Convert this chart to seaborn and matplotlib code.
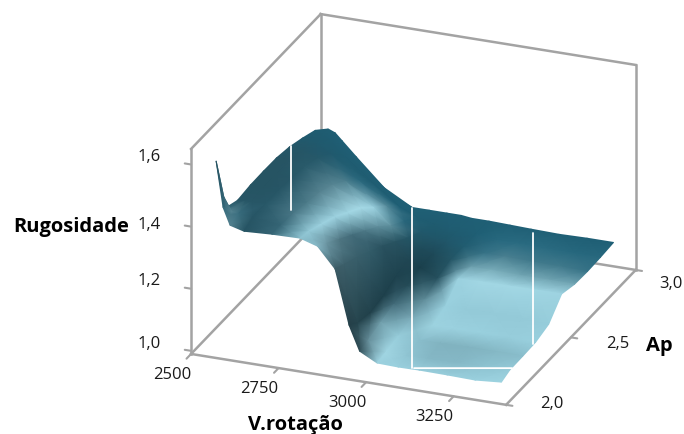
import numpy as np
import matplotlib
matplotlib.use("Agg")
import matplotlib.pyplot as plt
import seaborn as sns
from mpl_toolkits.mplot3d import proj3d

# Grid
v_rotacao = [2540, 2560, 2580, 2620, 2700, 2780, 2830, 2880, 2920, 2950, 3000, 3060, 3120, 3200, 3280, 3355]
ap = [2.085, 2.15, 2.25, 2.35, 2.45, 2.55, 2.65, 2.75, 2.85, 2.95]

# Rugosidade, one row per Ap value
rugosidade = [
    [1.582, 1.436, 1.382, 1.370, 1.375, 1.377, 1.360, 1.296, 1.122, 1.044, 1.015, 1.013, 1.014, 1.013, 1.011, 1.018],
    [1.400, 1.395, 1.390, 1.385, 1.375, 1.370, 1.340, 1.280, 1.100, 1.050, 1.020, 1.020, 1.022, 1.024, 1.026, 1.029],
    [1.383, 1.385, 1.385, 1.385, 1.370, 1.350, 1.310, 1.260, 1.090, 1.065, 1.030, 1.027, 1.028, 1.030, 1.030, 1.030],
    [1.389, 1.390, 1.390, 1.385, 1.360, 1.330, 1.280, 1.235, 1.100, 1.080, 1.045, 1.032, 1.032, 1.033, 1.033, 1.032],
    [1.390, 1.390, 1.390, 1.380, 1.350, 1.300, 1.250, 1.210, 1.120, 1.095, 1.060, 1.050, 1.050, 1.050, 1.048, 1.046],
    [1.389, 1.387, 1.385, 1.375, 1.330, 1.272, 1.220, 1.180, 1.130, 1.110, 1.085, 1.095, 1.097, 1.098, 1.099, 1.100],
    [1.381, 1.380, 1.375, 1.360, 1.300, 1.230, 1.180, 1.150, 1.120, 1.110, 1.100, 1.090, 1.090, 1.088, 1.088, 1.088],
    [1.366, 1.363, 1.355, 1.330, 1.260, 1.190, 1.150, 1.125, 1.105, 1.105, 1.100, 1.090, 1.090, 1.088, 1.087, 1.086],
    [1.348, 1.340, 1.325, 1.280, 1.210, 1.145, 1.120, 1.105, 1.100, 1.100, 1.098, 1.090, 1.090, 1.088, 1.088, 1.088],
    [1.309, 1.300, 1.278, 1.234, 1.149, 1.100, 1.100, 1.100, 1.100, 1.096, 1.096, 1.094, 1.092, 1.090, 1.092, 1.092],
]

# Surface brightness at the same nodes (0 dark, 1 light)
brilho = [
    [0.05, 0.25, 0.40, 0.12, 0.25, 0.70, 0.65, 0.18, 0.05, 0.10, 0.82, 0.80, 0.78, 0.78, 0.80, 0.85],
    [0.25, 0.40, 0.30, 0.13, 0.25, 0.75, 0.50, 0.20, 0.06, 0.45, 0.88, 0.72, 0.66, 0.66, 0.70, 0.75],
    [0.14, 0.14, 0.14, 0.15, 0.35, 0.85, 0.35, 0.20, 0.04, 0.55, 0.78, 0.68, 0.64, 0.64, 0.66, 0.68],
    [0.12, 0.12, 0.12, 0.14, 0.36, 0.85, 0.30, 0.18, 0.03, 0.30, 0.60, 0.84, 0.82, 0.80, 0.78, 0.80],
    [0.12, 0.12, 0.12, 0.14, 0.40, 0.90, 0.35, 0.12, 0.03, 0.08, 0.45, 0.80, 0.76, 0.76, 0.76, 0.78],
    [0.12, 0.12, 0.13, 0.17, 0.42, 0.95, 0.45, 0.12, 0.04, 0.00, 0.10, 0.82, 0.90, 0.90, 0.88, 0.85],
    [0.13, 0.13, 0.13, 0.15, 0.38, 0.85, 0.45, 0.12, 0.05, 0.04, 0.12, 0.55, 0.62, 0.58, 0.58, 0.58],
    [0.15, 0.15, 0.15, 0.15, 0.26, 0.45, 0.25, 0.14, 0.10, 0.12, 0.17, 0.32, 0.38, 0.35, 0.35, 0.32],
    [0.17, 0.17, 0.17, 0.17, 0.18, 0.20, 0.18, 0.16, 0.17, 0.18, 0.20, 0.25, 0.27, 0.27, 0.25, 0.25],
    [0.19, 0.19, 0.20, 0.20, 0.20, 0.20, 0.20, 0.20, 0.20, 0.20, 0.20, 0.21, 0.21, 0.21, 0.20, 0.20],
]

# How far each row / column leans to the teal tones instead of the grey ones
teal_linha = [0, 0.1, 0.2, 0.3, 0.4, 0.5, 0.7, 0.9, 1, 1]
teal_coluna = [0.6, 0.6, 0.6, 0.6, 0.5, 0.2, 0, 0, 0, 0, 0, 0, 0, 0, 0, 0]

v_ticks = [2500, 2750, 3000, 3250]
ap_ticks = [2.0, 2.5, 3.0]
z_ticks = [1.0, 1.2, 1.4, 1.6]

# White gaps in the surface: V, Ap, Rugosidade at both ends
fendas = [
    ([2600, 2600], [2.5, 2.5], [1.255, 1.459]),
    ([3093, 3093], [2.1, 2.1], [1.01, 1.523]),
    ([3366, 3366], [2.3, 2.3], [1.05, 1.406]),
    ([3100, 3380], [2.1, 2.1], [1.01, 1.061]),
]

sns.set_style("white")
plt.rcParams['font.family'] = ['Open Sans', 'DejaVu Sans']
cor_caixa = '#a3a3a3'
cor_texto = '#1a1a1a'

mapa_cinza = sns.blend_palette(['#1a343c', '#2f4c55', '#3f5f69', '#4c6b75', '#5d818c', '#6e97a3', '#7ba9b6', '#8ec3d1', '#9ad0de', '#a2d7e4', '#aadde9'], as_cmap=True)
mapa_teal = sns.blend_palette(['#1a4a5a', '#1e5568', '#1f5f75', '#2f7086', '#4f8595', '#5f97a7', '#74aab8', '#86bcca', '#98cfdd', '#a2d7e4', '#aadde9'], as_cmap=True)

fig = plt.figure(figsize=(6.84, 4.34), dpi=100)
ax = fig.add_axes([0.0958, 0.0039, 1, 1], projection='3d', proj_type='ortho')
ax.view_init(elev=24.2, azim=-68.5)
ax.set_box_aspect((339, 354, 225), zoom=1.205)
x0, x1 = 2500, 3400
y0, y1 = 2.0, 3.0
z0, z1 = 0.99, 1.65
ax.set_xlim(x0, x1, view_margin=0)
ax.set_ylim(y0, y1, view_margin=0)
ax.set_zlim(z0, z1, view_margin=0)
ax.set_axis_off()
ax.patch.set_alpha(0)


def no_plano(x, y, z):
    px, py, _ = proj3d.proj_transform(np.asarray(x, float), np.asarray(y, float), np.asarray(z, float), ax.get_proj())
    return px, py


# box
arestas = [
    ((x0, x1), (y0, y0), (z0, z0)),
    ((x1, x1), (y0, y1), (z0, z0)),
    ((x0, x0), (y0, y1), (z0, z0)),
    ((x0, x1), (y1, y1), (z0, z0)),
    ((x0, x0), (y0, y0), (z0, z1)),
    ((x0, x0), (y1, y1), (z0, z1)),
    ((x1, x1), (y1, y1), (z0, z1)),
    ((x0, x0), (y0, y1), (z1, z1)),
    ((x0, x1), (y1, y1), (z1, z1)),
]
for xs, ys, zs in arestas:
    ax.plot(xs, ys, zs, color=cor_caixa, lw=1.8, solid_capstyle='projecting', clip_on=False)

# ticks
for t in z_ticks:
    ax.plot((x0 - 18, x0), (y0, y0), (t, t), color=cor_caixa, lw=1.5, clip_on=False)
for t in v_ticks:
    ax.plot((t, t), (y0 - 0.035, y0), (z0, z0), color=cor_caixa, lw=1.5, clip_on=False)
for t in ap_ticks:
    ax.plot((x1, x1 + 18), (t, t), (z0, z0), color=cor_caixa, lw=1.5, clip_on=False)

# surface, back rows first so the front rows paint over them
X, Y = np.meshgrid(v_rotacao, ap)
Z = np.array(rugosidade)
px, py = no_plano(X.ravel(), Y.ravel(), Z.ravel())
px = px.reshape(X.shape)[::-1]
py = py.reshape(X.shape)[::-1]
b = np.array(brilho)
peso = np.maximum(np.array(teal_linha)[:, None], np.array(teal_coluna)[None, :])[:, :, None]
cores = mapa_cinza(b) * (1 - peso) + mapa_teal(b) * peso
malha = ax.pcolormesh(px, py, cores[::-1], shading='gouraud', clip_on=False)
malha.do_3d_projection = lambda: 0
malha.set_zorder(5)
ax.computed_zorder = False

for xs, ys, zs in fendas:
    ax.plot(xs, ys, zs, color='white', lw=1.3, zorder=6, clip_on=False)

# tick labels
desloc_z = [(-42, -7), (-42, -8), (-42, -2), (-42, -7)]
for t, d in zip(z_ticks, desloc_z):
    ax.annotate(f'{t:.1f}'.replace('.', ','), xy=no_plano(x0, y0, t), xytext=(d[0], -d[1]), annotation_clip=False,
                textcoords='offset pixels', ha='center', va='center', fontsize=12, color=cor_texto)
for t in v_ticks:
    ax.annotate(str(t), xy=no_plano(t, y0, z0), xytext=(-19, -21), annotation_clip=False,
                textcoords='offset pixels', ha='center', va='center', fontsize=12, color=cor_texto)
desloc_ap = [(46, -1), (47, 7), (35, 14)]
for t, d in zip(ap_ticks, desloc_ap):
    ax.annotate(f'{t:.1f}'.replace('.', ','), xy=no_plano(x1, t, z0), xytext=(d[0], -d[1]), annotation_clip=False,
                textcoords='offset pixels', ha='center', va='center', fontsize=12, color=cor_texto)

fig.text(71 / 684, 1 - 227 / 434, 'Rugosidade', ha='center', va='center', fontsize=14.5, fontweight='bold', color='black')
fig.text(295 / 684, 1 - 425 / 434, 'V.rotação', ha='center', va='center', fontsize=14.5, fontweight='bold', color='black')
fig.text(659 / 684, 1 - 346 / 434, 'Ap', ha='center', va='center', fontsize=14.5, fontweight='bold', color='black')

fig.savefig('out.png', dpi=100, facecolor='white')
